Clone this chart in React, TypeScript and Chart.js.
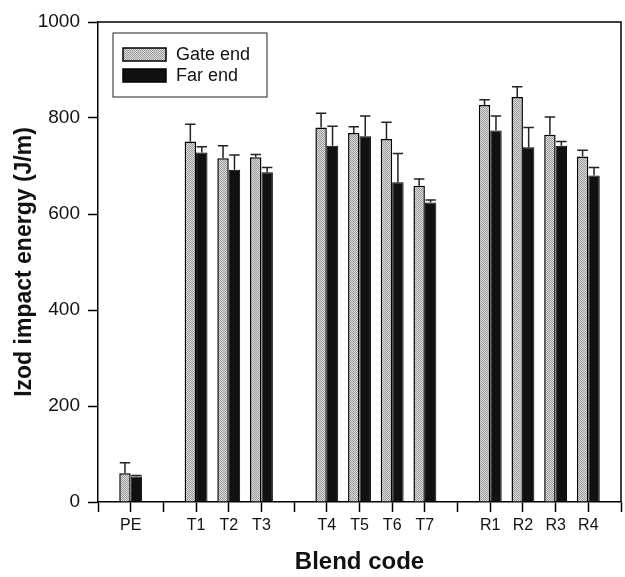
import React, { useEffect, useRef } from "react";
import { Chart, registerables } from "chart.js";

Chart.register(...registerables);

const categories = ["", "PE", "", "T1", "T2", "T3", "", "T4", "T5", "T6", "T7", "", "R1", "R2", "R3", "R4", ""];
const gateEnd = [null, 60, null, 751, 716, 718, null, 780, 769, 756, 659, null, 827, 844, 765, 720, null];
const gateEndErr = [null, 22, null, 36, 26, 6, null, 30, 13, 35, 14, null, 11, 21, 37, 13, null];
const farEnd = [null, 53, null, 728, 692, 687, null, 742, 762, 666, 624, null, 774, 739, 742, 680, null];
const farEndErr = [null, 2, null, 12, 31, 10, null, 41, 42, 60, 5, null, 30, 41, 9, 17, null];
const seriesLabels = ["Gate end", "Far end"];
const yTicks = [0, 200, 400, 600, 800, 1000];

const FONT = "'Liberation Sans', Arial, sans-serif";

function makePattern(): CanvasPattern | string {
  const c = document.createElement("canvas");
  c.width = 2;
  c.height = 2;
  const g = c.getContext("2d");
  if (!g) return "#c0c0c0";
  g.fillStyle = "#dcdcdc";
  g.fillRect(0, 0, 2, 2);
  g.fillStyle = "#9a9a9a";
  g.fillRect(0, 0, 1, 1);
  g.fillRect(1, 1, 1, 1);
  const p = g.createPattern(c, "repeat");
  return p || "#c0c0c0";
}

export default function App() {
  const ref = useRef<HTMLCanvasElement | null>(null);

  useEffect(() => {
    const canvas = ref.current;
    if (!canvas) return;
    const pattern = makePattern();
    const errors = [gateEndErr, farEndErr];

    const errorBars = {
      id: "errorBars",
      afterDatasetsDraw(chart: any) {
        const ctx = chart.ctx;
        const ys = chart.scales.y;
        ctx.save();
        ctx.strokeStyle = "#222";
        ctx.lineWidth = 1.5;
        chart.data.datasets.forEach((ds: any, i: number) => {
          const meta = chart.getDatasetMeta(i);
          meta.data.forEach((el: any, j: number) => {
            const v = ds.data[j];
            const e = errors[i][j];
            if (v == null || e == null) return;
            const yTop = ys.getPixelForValue(v + e);
            const half = el.width / 2 - 0.5;
            ctx.beginPath();
            ctx.moveTo(el.x, el.y);
            ctx.lineTo(el.x, yTop);
            ctx.moveTo(el.x - half, yTop);
            ctx.lineTo(el.x + half, yTop);
            ctx.stroke();
          });
        });
        ctx.restore();
      },
    };

    const frameAndLegend = {
      id: "frameAndLegend",
      afterDraw(chart: any) {
        const ctx = chart.ctx;
        const a = chart.chartArea;
        ctx.save();
        ctx.strokeStyle = "#000";
        ctx.lineWidth = 1.5;
        ctx.beginPath();
        ctx.moveTo(a.left, a.top);
        ctx.lineTo(a.right, a.top);
        ctx.lineTo(a.right, a.bottom);
        ctx.stroke();

        // legend box
        const bx = a.left + 15;
        const by = a.top + 11;
        const bw = 154;
        const bh = 64;
        ctx.lineWidth = 1;
        ctx.strokeStyle = "#222";
        ctx.fillStyle = "#fff";
        ctx.fillRect(bx, by, bw, bh);
        ctx.strokeRect(bx, by, bw, bh);
        const fills = [pattern, "#111"];
        chart.data.datasets.forEach((ds: any, i: number) => {
          const sy = by + 15 + i * 21;
          ctx.fillStyle = fills[i];
          ctx.fillRect(bx + 10, sy, 43, 13);
          ctx.lineWidth = 1.5;
          ctx.strokeStyle = "#000";
          ctx.strokeRect(bx + 10, sy, 43, 13);
          ctx.fillStyle = "#111";
          ctx.font = `18px ${FONT}`;
          ctx.textBaseline = "middle";
          ctx.textAlign = "left";
          ctx.fillText(ds.label, bx + 63, sy + 7);
        });
        ctx.restore();
      },
    };

    const chart = new Chart(canvas, {
      type: "bar",
      data: {
        labels: categories,
        datasets: [
          {
            label: seriesLabels[0],
            data: gateEnd as any,
            backgroundColor: pattern as any,
            borderColor: "#000",
            borderWidth: 1.5,
            categoryPercentage: 0.7,
            barPercentage: 1,
          },
          {
            label: seriesLabels[1],
            data: farEnd as any,
            backgroundColor: "#111",
            borderColor: "#000",
            borderWidth: 1,
            categoryPercentage: 0.7,
            barPercentage: 1,
          },
        ],
      },
      options: {
        responsive: false,
        animation: false,
        layout: { padding: { top: 22, right: 1, left: 0, bottom: 0 } },
        plugins: {
          legend: { display: false },
          tooltip: { enabled: false },
        },
        scales: {
          x: {
            type: "category",
            offset: false,
            grid: {
              offset: false,
              drawOnChartArea: false,
              drawTicks: true,
              tickLength: 10,
              tickColor: "#000",
              tickWidth: 1.5,
            },
            border: { color: "#000", width: 1.5 },
            ticks: {
              autoSkip: false,
              maxRotation: 0,
              color: "#111",
              padding: 4,
              font: { family: FONT, size: 16 },
            },
            title: {
              display: true,
              text: "Blend code",
              color: "#111",
              padding: { top: 0, bottom: 0 },
              font: { family: FONT, size: 24, weight: "bold" },
            },
            afterFit: (s: any) => {
              s.height = 75;
            },
          },
          y: {
            min: 0,
            max: 1000,
            afterBuildTicks: (s: any) => {
              s.ticks = yTicks.map((v) => ({ value: v }));
            },
            grid: {
              drawOnChartArea: false,
              drawTicks: true,
              tickLength: 10,
              tickColor: "#000",
              tickWidth: 1.5,
            },
            border: { color: "#000", width: 1.5 },
            ticks: {
              color: "#111",
              padding: 8,
              font: { family: FONT, size: 19 },
              callback: (v: any) => String(v),
            },
            title: {
              display: true,
              text: "Izod impact energy (J/m)",
              color: "#111",
              padding: { top: 11, bottom: 0 },
              font: { family: FONT, size: 23, weight: "bold" },
            },
            afterFit: (s: any) => {
              s.width = 98;
            },
          },
        },
      },
      plugins: [errorBars, frameAndLegend],
    });

    return () => chart.destroy();
  }, []);

  return (
    <div style={{ position: "absolute", left: 0, top: 0, width: 625, height: 577, background: "#fff" }}>
      <canvas ref={ref} width={625} height={577} style={{ display: "block" }} />
    </div>
  );
}
